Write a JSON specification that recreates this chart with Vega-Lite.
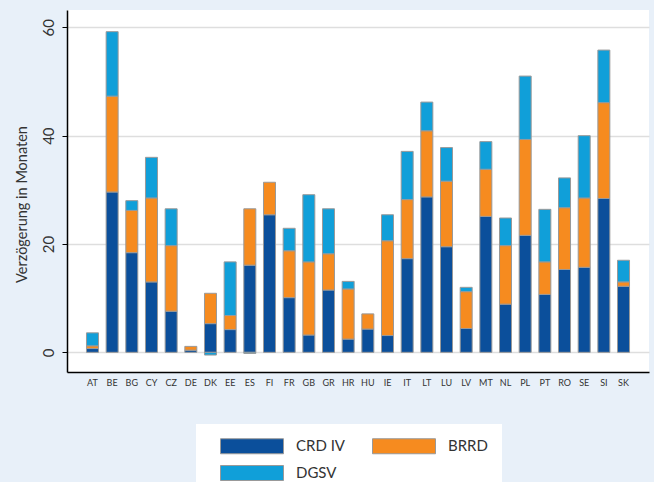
{
  "$schema": "https://vega.github.io/schema/vega-lite/v6.json",
  "width": 582,
  "height": 362,
  "autosize": {"type": "none"},
  "padding": {"left": 67, "top": 10, "right": 5, "bottom": 110},
  "background": "#e8f0f9",
  "config": {
    "font": "Lato",
    "view": {"fill": "white", "stroke": null}
  },
  "data": {
    "values": [
      {"country": "AT", "type": "CRD IV", "value": 0.7},
      {"country": "AT", "type": "BRRD", "value": 0.5},
      {"country": "AT", "type": "DGSV", "value": 2.4},
      {"country": "BE", "type": "CRD IV", "value": 29.6},
      {"country": "BE", "type": "BRRD", "value": 17.7},
      {"country": "BE", "type": "DGSV", "value": 11.9},
      {"country": "BG", "type": "CRD IV", "value": 18.4},
      {"country": "BG", "type": "BRRD", "value": 7.8},
      {"country": "BG", "type": "DGSV", "value": 1.8},
      {"country": "CY", "type": "CRD IV", "value": 13.0},
      {"country": "CY", "type": "BRRD", "value": 15.5},
      {"country": "CY", "type": "DGSV", "value": 7.5},
      {"country": "CZ", "type": "CRD IV", "value": 7.6},
      {"country": "CZ", "type": "BRRD", "value": 12.1},
      {"country": "CZ", "type": "DGSV", "value": 6.8},
      {"country": "DE", "type": "CRD IV", "value": 0.4},
      {"country": "DE", "type": "BRRD", "value": 0.7},
      {"country": "DK", "type": "CRD IV", "value": 5.3},
      {"country": "DK", "type": "BRRD", "value": 5.6},
      {"country": "DK", "type": "DGSV", "value": -0.5},
      {"country": "EE", "type": "CRD IV", "value": 4.2},
      {"country": "EE", "type": "BRRD", "value": 2.6},
      {"country": "EE", "type": "DGSV", "value": 9.9},
      {"country": "ES", "type": "CRD IV", "value": 16.1},
      {"country": "ES", "type": "BRRD", "value": 10.4},
      {"country": "ES", "type": "DGSV", "value": -0.2},
      {"country": "FI", "type": "CRD IV", "value": 25.4},
      {"country": "FI", "type": "BRRD", "value": 6.0},
      {"country": "FR", "type": "CRD IV", "value": 10.1},
      {"country": "FR", "type": "BRRD", "value": 8.65},
      {"country": "FR", "type": "DGSV", "value": 4.15},
      {"country": "GB", "type": "CRD IV", "value": 3.2},
      {"country": "GB", "type": "BRRD", "value": 13.5},
      {"country": "GB", "type": "DGSV", "value": 12.4},
      {"country": "GR", "type": "CRD IV", "value": 11.5},
      {"country": "GR", "type": "BRRD", "value": 6.7},
      {"country": "GR", "type": "DGSV", "value": 8.3},
      {"country": "HR", "type": "CRD IV", "value": 2.45},
      {"country": "HR", "type": "BRRD", "value": 9.25},
      {"country": "HR", "type": "DGSV", "value": 1.4},
      {"country": "HU", "type": "CRD IV", "value": 4.3},
      {"country": "HU", "type": "BRRD", "value": 2.8},
      {"country": "IE", "type": "CRD IV", "value": 3.1},
      {"country": "IE", "type": "BRRD", "value": 17.5},
      {"country": "IE", "type": "DGSV", "value": 4.8},
      {"country": "IT", "type": "CRD IV", "value": 17.3},
      {"country": "IT", "type": "BRRD", "value": 10.9},
      {"country": "IT", "type": "DGSV", "value": 8.9},
      {"country": "LT", "type": "CRD IV", "value": 28.7},
      {"country": "LT", "type": "BRRD", "value": 12.2},
      {"country": "LT", "type": "DGSV", "value": 5.3},
      {"country": "LU", "type": "CRD IV", "value": 19.5},
      {"country": "LU", "type": "BRRD", "value": 12.1},
      {"country": "LU", "type": "DGSV", "value": 6.2},
      {"country": "LV", "type": "CRD IV", "value": 4.4},
      {"country": "LV", "type": "BRRD", "value": 6.8},
      {"country": "LV", "type": "DGSV", "value": 0.8},
      {"country": "MT", "type": "CRD IV", "value": 25.1},
      {"country": "MT", "type": "BRRD", "value": 8.7},
      {"country": "MT", "type": "DGSV", "value": 5.1},
      {"country": "NL", "type": "CRD IV", "value": 8.9},
      {"country": "NL", "type": "BRRD", "value": 10.8},
      {"country": "NL", "type": "DGSV", "value": 5.1},
      {"country": "PL", "type": "CRD IV", "value": 21.6},
      {"country": "PL", "type": "BRRD", "value": 17.7},
      {"country": "PL", "type": "DGSV", "value": 11.7},
      {"country": "PT", "type": "CRD IV", "value": 10.7},
      {"country": "PT", "type": "BRRD", "value": 6.0},
      {"country": "PT", "type": "DGSV", "value": 9.7},
      {"country": "RO", "type": "CRD IV", "value": 15.3},
      {"country": "RO", "type": "BRRD", "value": 11.4},
      {"country": "RO", "type": "DGSV", "value": 5.5},
      {"country": "SE", "type": "CRD IV", "value": 15.7},
      {"country": "SE", "type": "BRRD", "value": 12.8},
      {"country": "SE", "type": "DGSV", "value": 11.5},
      {"country": "SI", "type": "CRD IV", "value": 28.4},
      {"country": "SI", "type": "BRRD", "value": 17.7},
      {"country": "SI", "type": "DGSV", "value": 9.7},
      {"country": "SK", "type": "CRD IV", "value": 12.2},
      {"country": "SK", "type": "BRRD", "value": 0.8},
      {"country": "SK", "type": "DGSV", "value": 4.0}
    ]
  },
  "transform": [
    {"calculate": "indexof(['CRD IV', 'BRRD', 'DGSV'], datum.type)", "as": "stackOrder"}
  ],
  "mark": {"type": "bar", "stroke": "#999999", "strokeWidth": 1},
  "encoding": {
    "x": {
      "field": "country",
      "type": "nominal",
      "sort": null,
      "scale": {"paddingInner": 0.39, "paddingOuter": 0.99},
      "axis": {
        "title": null,
        "labelAngle": 0,
        "ticks": false,
        "domainColor": "#000000",
        "domainWidth": 1.5,
        "labelFontSize": 9,
        "labelColor": "#333333",
        "labelPadding": 6
      }
    },
    "y": {
      "field": "value",
      "type": "quantitative",
      "stack": "zero",
      "scale": {"domain": [-3.63, 63.2], "nice": false, "zero": false},
      "axis": {
        "title": "Verzögerung in Monaten",
        "values": [0, 20, 40, 60],
        "grid": true,
        "gridColor": "#dedede",
        "gridWidth": 1.5,
        "domainColor": "#000000",
        "domainWidth": 1.5,
        "tickColor": "#000000",
        "tickSize": 5,
        "labelAngle": -90,
        "labelFontSize": 15,
        "labelColor": "#333333",
        "labelPadding": 6,
        "titleFontSize": 14.5,
        "titleFontWeight": "normal",
        "titleColor": "#333333",
        "titlePadding": 12,
        "titleY": 194
      }
    },
    "color": {
      "field": "type",
      "type": "nominal",
      "sort": ["CRD IV", "BRRD", "DGSV"],
      "scale": {
        "domain": ["CRD IV", "BRRD", "DGSV"],
        "range": ["#0b4f9b", "#f68b1f", "#109fd9"]
      },
      "legend": {
        "title": null,
        "orient": "none",
        "legendX": 129,
        "legendY": 414,
        "direction": "horizontal",
        "columns": 2,
        "fillColor": "white",
        "padding": 14,
        "symbolOffset": 10,
        "symbolType": "M-1,-1H7.4V1H-1Z",
        "symbolSize": 225,
        "symbolStrokeColor": "#999999",
        "symbolStrokeWidth": 1,
        "labelOffset": 60,
        "labelFontSize": 15,
        "labelColor": "#333333",
        "columnPadding": 16,
        "rowPadding": 7
      }
    },
    "order": {"field": "stackOrder", "type": "quantitative", "sort": "ascending"}
  }
}
